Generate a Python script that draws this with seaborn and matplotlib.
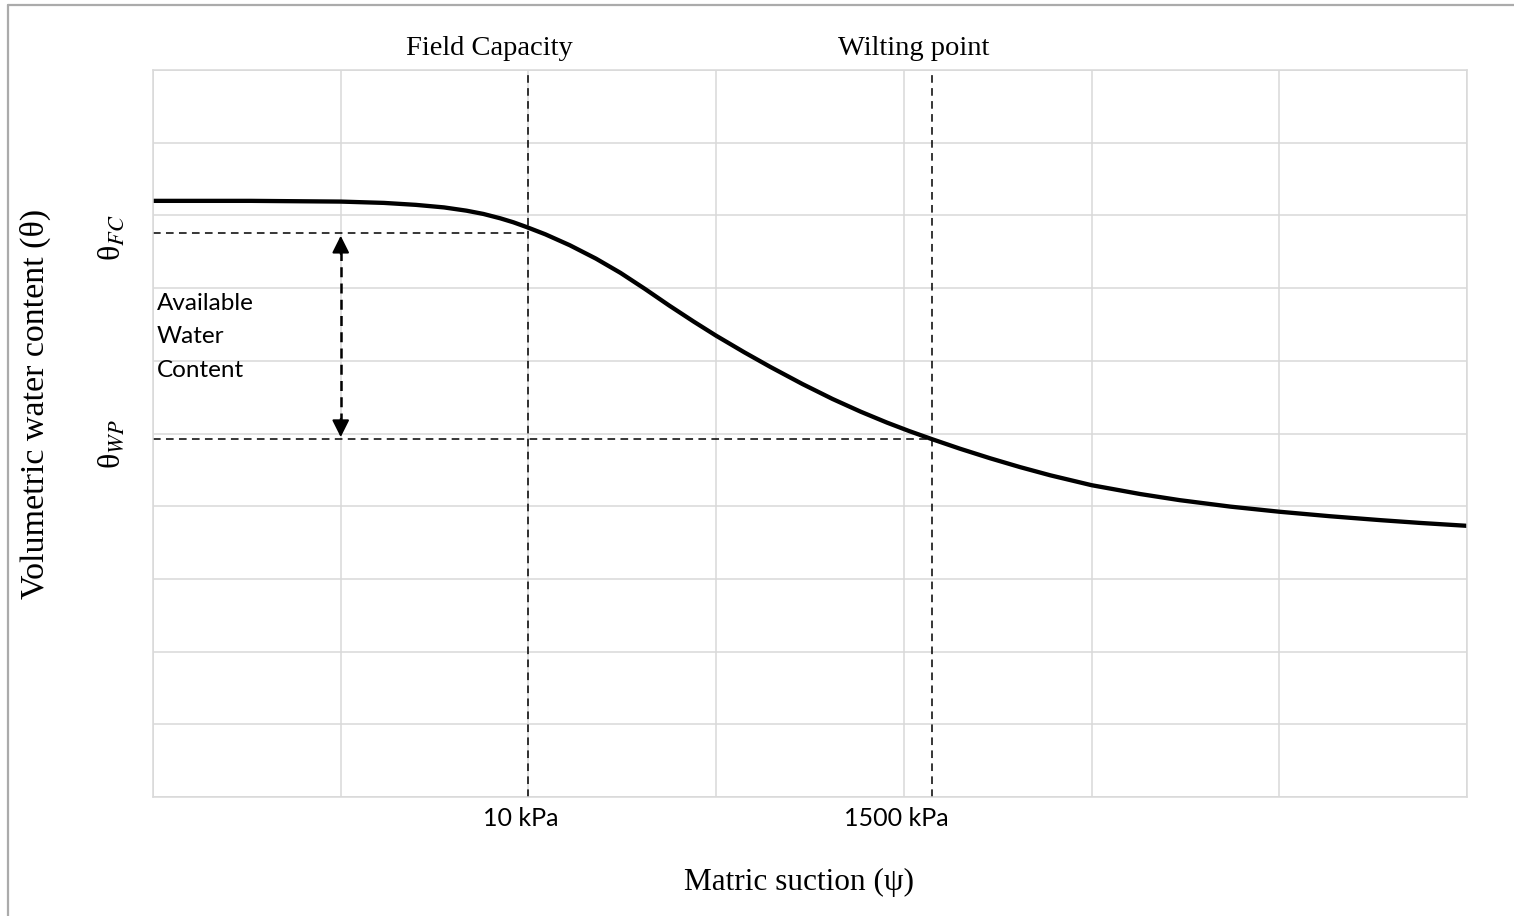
import matplotlib
matplotlib.use("Agg")
import matplotlib.pyplot as plt
from matplotlib.lines import Line2D
from matplotlib.transforms import ScaledTranslation
import seaborn as sns
import pandas as pd

# ---- data (x and y in grid units) ----
suction_pos = [0.0, 0.52, 1.0, 1.23, 1.40, 1.55, 1.67, 1.76, 1.85, 1.92, 1.99,
               2.09, 2.22, 2.36, 2.49, 2.62, 2.75, 2.88, 3.00, 3.15, 3.29,
               3.46, 3.62, 3.77, 3.91, 4.03, 4.15, 4.30, 4.46, 4.62, 4.78,
               5.00, 5.26, 5.47, 5.74, 6.00, 6.27, 6.54, 6.75, 7.0]
theta_vals = [8.20, 8.20, 8.19, 8.172, 8.145, 8.11, 8.065, 8.02, 7.96, 7.905, 7.84,
              7.74, 7.59, 7.405, 7.21, 6.99, 6.76, 6.54, 6.345, 6.117, 5.914,
              5.68, 5.475, 5.30, 5.15, 5.032, 4.922, 4.79, 4.659, 4.537, 4.425,
              4.289, 4.167, 4.083, 3.994, 3.924, 3.862, 3.808, 3.770, 3.73]
fc_x, wp_x = 2.0, 4.15
theta_fc, theta_wp = 7.76, 4.92
x_tick_labels = ["10 kPa", "1500 kPa"]
x_label_pos = [1.96, 3.96]
y_tick_labels = [r"θ$_{FC}$", r"θ$_{WP}$"]
top_labels = ["Field Capacity", "Wilting point"]
top_label_x = [1.79, 4.05]
arrow_x = 1.0

df = pd.DataFrame({"suction": suction_pos, "theta": theta_vals})

sns.set_theme(style="white")
plt.rcParams["font.family"] = ["Liberation Serif", "DejaVu Serif"]
plt.rcParams["mathtext.fontset"] = "stix"
for k in ["text.color", "axes.labelcolor", "xtick.color", "ytick.color"]:
    plt.rcParams[k] = "black"

fig = plt.figure(figsize=(15.14, 9.16), dpi=100)
ax = fig.add_axes([153 / 1514, 119 / 916, 1314 / 1514, 727 / 916])

grid_c = "#d9d9d9"
ax.set_xlim(0, 7)
ax.set_ylim(0, 10)
ax.set_xticks(range(8))
ax.set_yticks(range(11))
ax.set_xticklabels([])
ax.set_yticklabels([])
ax.grid(True, which="major", color=grid_c, lw=1.1)
for s in ax.spines.values():
    s.set_color(grid_c)
    s.set_linewidth(1.1)

dash = (0, (5, 3.5))
# reference lines
ax.plot([fc_x, fc_x], [0, 10], color="black", lw=1.1, ls=dash)
ax.plot([wp_x, wp_x], [0, 10], color="black", lw=1.1, ls=dash)
ax.plot([0, fc_x], [theta_fc, theta_fc], color="black", lw=1.1, ls=dash)
ax.plot([0, wp_x], [theta_wp, theta_wp], color="black", lw=1.1, ls=dash)

sns.lineplot(data=df, x="suction", y="theta", ax=ax, color="black", lw=3.1,
             sort=False, estimator=None, solid_joinstyle="round",
             solid_capstyle="round")

# double arrow
tip_top = theta_fc - 0.04
tip_bot = theta_wp + 0.03
ax.plot([arrow_x, arrow_x], [tip_bot + 0.2, tip_top - 0.2], color="black", lw=1.8,
        ls=(0, (4, 2.5)))
for tip, frm in [(tip_top, tip_top - 0.25), (tip_bot, tip_bot + 0.25)]:
    ax.annotate("", xy=(arrow_x, tip), xytext=(arrow_x, frm),
                arrowprops=dict(arrowstyle="-|>", color="black", lw=1.5,
                                mutation_scale=26, shrinkA=0, shrinkB=0))

ax.set_xlabel("")
ax.set_ylabel("")

# tick labels as minor ticks
ax.xaxis.remove_overlapping_locs = False
ax.yaxis.remove_overlapping_locs = False
ax.set_xticks(x_label_pos, minor=True)
ax.set_xticklabels(x_tick_labels, minor=True, fontfamily="Lato", fontsize=18)
ax.set_yticks([theta_fc, theta_wp], minor=True)
ax.set_yticklabels(y_tick_labels, minor=True, fontsize=23, rotation=90, va="center")
ax.tick_params(axis="x", which="both", length=0, pad=7)
ax.tick_params(axis="y", which="both", length=0, pad=19)
for lab in ax.get_yticklabels(minor=True):
    lab.set_transform(lab.get_transform() +
                      ScaledTranslation(0, -5 / 100, fig.dpi_scale_trans))

ax.text(0.021, theta_fc - 0.83, "Available\nWater\nContent", fontfamily="Lato",
        fontsize=17.5, va="top", ha="left", linespacing=1.72)

for lbl, xx in zip(top_labels, top_label_x):
    ax.text(xx, 1.030, lbl, transform=ax.get_xaxis_transform(), ha="center",
            va="center", fontsize=20.5)

fig.text(799 / 1514, 1 - 882 / 916, "Matric suction (ψ)", ha="center", va="center",
         fontsize=22.5)
fig.text(35 / 1514, 1 - 404 / 916, "Volumetric water content (θ)", ha="center",
         va="center", rotation=90, fontsize=24.5)

# outer frame (left and top edges)
fig.add_artist(Line2D([7.5 / 1514, 7.5 / 1514], [0, 1 - 5 / 916],
                      transform=fig.transFigure, color="#ababab", lw=1.6))
fig.add_artist(Line2D([7.5 / 1514, 1], [1 - 5 / 916, 1 - 5 / 916],
                      transform=fig.transFigure, color="#ababab", lw=1.6))

fig.savefig("out.png", dpi=100, facecolor="white")
